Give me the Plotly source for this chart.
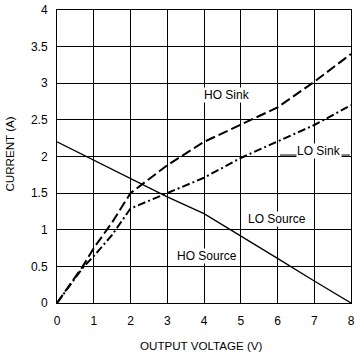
import plotly.graph_objects as go

voltage = [0, 1, 2, 3, 4, 5, 6, 7, 8]
source_current = [2.2, 1.95, 1.7, 1.45, 1.22, 0.92, 0.61, 0.3, 0.0]
ho_sink_v = [0, 0.7, 1, 1.5, 2, 3, 4, 5, 6, 7, 8]
ho_sink_i = [0, 0.5, 0.75, 1.1, 1.5, 1.88, 2.2, 2.43, 2.67, 3.02, 3.4]
lo_sink_v = [0, 0.7, 1, 1.5, 2, 3, 4, 5, 6, 7, 8]
lo_sink_i = [0, 0.48, 0.64, 0.93, 1.29, 1.5, 1.71, 1.98, 2.2, 2.43, 2.7]

x_ticks = [0, 1, 2, 3, 4, 5, 6, 7, 8]
y_ticks = [0, 0.5, 1, 1.5, 2, 2.5, 3, 3.5, 4]
y_tick_text = ["0", "0.5", "1", "1.5", "2", "2.5", "3", "3.5", "4"]

FONT = "Liberation Sans, Arial, sans-serif"

fig = go.Figure()
fig.add_trace(go.Scatter(x=voltage, y=source_current, mode="lines",
                         line=dict(color="black", width=1.3), showlegend=False))
fig.add_trace(go.Scatter(x=ho_sink_v, y=ho_sink_i, mode="lines",
                         line=dict(color="black", width=2, dash="10px,4px"), showlegend=False))
fig.add_trace(go.Scatter(x=lo_sink_v, y=lo_sink_i, mode="lines",
                         line=dict(color="black", width=2, dash="8px,3px,2px,3px"), showlegend=False))

# leader line for LO Sink label
fig.add_shape(type="line", x0=6.07, x1=7.97, y0=2.02, y1=2.02,
              line=dict(color="black", width=1), layer="above")

def label(text, x, y):
    fig.add_annotation(x=x, y=y, text=text, showarrow=False, xanchor="center", yanchor="middle",
                       bgcolor="white", borderpad=0,
                       font=dict(family=FONT, size=12, color="black"))

label("HO Sink", 4.63, 2.84)
label("LO Sink", 7.12, 2.07)
label("LO Source", 5.99, 1.15)
label("HO Source", 4.08, 0.64)

# axis titles
fig.add_annotation(xref="paper", yref="paper", x=0.49, y=-0.146, text="OUTPUT VOLTAGE (V)",
                   showarrow=False, xanchor="center", yanchor="middle",
                   font=dict(family=FONT, size=11.6, color="black"))
fig.add_annotation(xref="paper", yref="paper", x=-0.16, y=0.51, text="CURRENT (A)",
                   showarrow=False, xanchor="center", yanchor="middle", textangle=-90,
                   font=dict(family=FONT, size=11.6, color="black"))

fig.update_layout(
    width=355, height=356,
    margin=dict(l=57, r=4, t=10, b=53),
    paper_bgcolor="white", plot_bgcolor="white",
    font=dict(family=FONT, size=12, color="black"),
    xaxis=dict(range=[0, 8], tickvals=x_ticks, showgrid=True, gridcolor="black", gridwidth=1,
               showline=True, linecolor="black", linewidth=1, mirror=True, zeroline=False,
               ticks="", ticklen=0, ticklabelstandoff=7, automargin=False),
    yaxis=dict(range=[0, 4], tickvals=y_ticks, ticktext=y_tick_text, showgrid=True,
               gridcolor="black", gridwidth=1,
               showline=True, linecolor="black", linewidth=1, mirror=True, zeroline=False,
               ticks="", ticklen=0, ticklabelstandoff=6, automargin=False),
)

fig.write_html("out.html", config={"displayModeBar": False},
               post_script="document.body.style.margin='0';document.body.style.overflow='hidden';")
